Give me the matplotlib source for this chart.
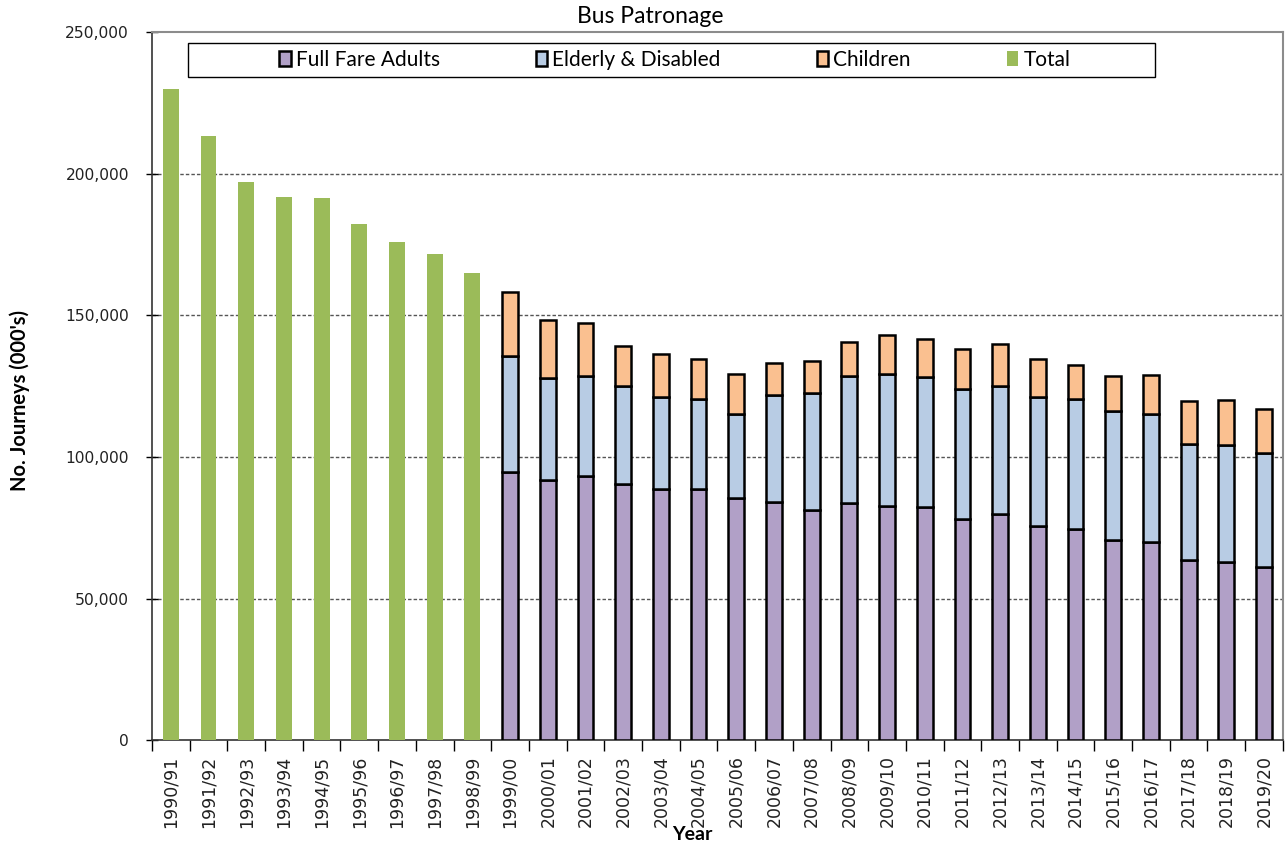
import numpy as np
import matplotlib
matplotlib.use("Agg")
from matplotlib import pyplot
from matplotlib.patches import Patch, Rectangle
from matplotlib.ticker import FuncFormatter, MultipleLocator

years = ['1990/91', '1991/92', '1992/93', '1993/94', '1994/95', '1995/96', '1996/97',
         '1997/98', '1998/99', '1999/00', '2000/01', '2001/02', '2002/03', '2003/04',
         '2004/05', '2005/06', '2006/07', '2007/08', '2008/09', '2009/10', '2010/11',
         '2011/12', '2012/13', '2013/14', '2014/15', '2015/16', '2016/17', '2017/18',
         '2018/19', '2019/20']

# totals only known for the early years (000's)
total = [229900, 213300, 197000, 191700, 191400, 182200, 175800, 171600, 164900]

# split by passenger type from 1999/00 onwards, cumulative tops
adults = [94500, 92000, 93300, 90500, 88600, 88500, 85600, 84200, 81400, 83700, 82500,
          82300, 78100, 80000, 75600, 74400, 70700, 70000, 63700, 62900, 61000]
adults_elderly = [135800, 128000, 128600, 125000, 121300, 120300, 115300, 121700, 122400,
                  128600, 129100, 128200, 123900, 125100, 121300, 120300, 116200, 115000,
                  104500, 104200, 101400]
all_three = [158100, 148500, 147100, 139200, 136300, 134400, 129100, 133300, 133800,
             140500, 143000, 141500, 138100, 139700, 134700, 132600, 128400, 128900,
             119600, 120200, 116900]

elderly = np.array(adults_elderly) - np.array(adults)
children = np.array(all_three) - np.array(adults_elderly)

c_adult = '#b1a0c7'
c_eld = '#b8cce4'
c_child = '#fac090'
c_total = '#9bbb59'

fig = pyplot.figure(figsize=(12.88, 8.43), dpi=100)
ax = fig.add_axes([0.118, 0.122, 0.878, 0.840])

x = np.arange(len(years))
n_tot = len(total)
w = 0.42

ax.bar(x[:n_tot], total, w, color=c_total, zorder=3)
xs = x[n_tot:]
ax.bar(xs, adults, w, color=c_adult, edgecolor='black', lw=1.8, zorder=3)
ax.bar(xs, elderly, w, bottom=adults, color=c_eld, edgecolor='black', lw=1.8, zorder=3)
ax.bar(xs, children, w, bottom=adults_elderly, color=c_child, edgecolor='black', lw=1.8, zorder=3)

ax.set_xlim(-0.5, len(years) - 0.5)
ax.set_ylim(0, 250000)
ax.yaxis.set_major_locator(MultipleLocator(50000))
ax.yaxis.set_major_formatter(FuncFormatter(lambda v, p: '{:,.0f}'.format(v)))
for gy in [50000, 100000, 150000, 200000]:
    ax.axhline(gy, color='#555555', lw=1, ls=(0, (2.5, 1.5)), zorder=1)

ax.set_xticks(x)
ax.set_xticklabels(years, rotation=90, fontsize=12.5, color='#222222')
ax.set_xticks(np.arange(-0.5, len(years), 1), minor=True)
ax.tick_params(axis='x', which='major', length=0, pad=11)
ax.tick_params(axis='x', which='minor', length=8, width=1, direction='out')
ax.tick_params(axis='y', length=9, width=1, direction='inout', labelsize=11.2,
               labelcolor='#222222', pad=12)

for s in ['top', 'right']:
    ax.spines[s].set_color('#8c8c8c')
    ax.spines[s].set_linewidth(1.5)
ax.spines['left'].set_color('#333333')
ax.spines['bottom'].set_color('#333333')
ax.spines['left'].set_linewidth(1.2)
ax.spines['bottom'].set_linewidth(1.2)

fig.text(0.505, 0.981, 'Bus Patronage', fontsize=16.5, family='Lato',
         ha='center', va='center')
ax.set_ylabel("No. Journeys (000's)", fontsize=14.5, fontweight='bold', family='Lato')
ax.yaxis.set_label_coords(-0.108, 0.479)
ax.set_xlabel('Year', fontsize=14, fontweight='bold', family='Lato')
ax.xaxis.set_label_coords(0.478, -0.121)

# legend frame is wider than its entries
ax.add_patch(Rectangle((0.0318, 0.9364), 0.855, 0.0481, transform=ax.transAxes,
                       facecolor='white', edgecolor='black', lw=1.0, zorder=4))
handles = [Patch(facecolor=c_adult, edgecolor='black', lw=1.8, label='Full Fare Adults'),
           Patch(facecolor=c_eld, edgecolor='black', lw=1.8, label='Elderly & Disabled'),
           Patch(facecolor=c_child, edgecolor='black', lw=1.8, label='Children'),
           Patch(facecolor=c_total, label='Total')]
leg = ax.legend(handles=handles, ncol=4, loc='center', bbox_to_anchor=(0.4623, 0.9605),
                frameon=False, borderaxespad=0, handlelength=0.55, handleheight=0.75,
                handletextpad=0.25, columnspacing=4.6, borderpad=0,
                prop={'family': 'Lato', 'size': 15})
leg.set_zorder(5)

pyplot.savefig('out.png', dpi=100)
